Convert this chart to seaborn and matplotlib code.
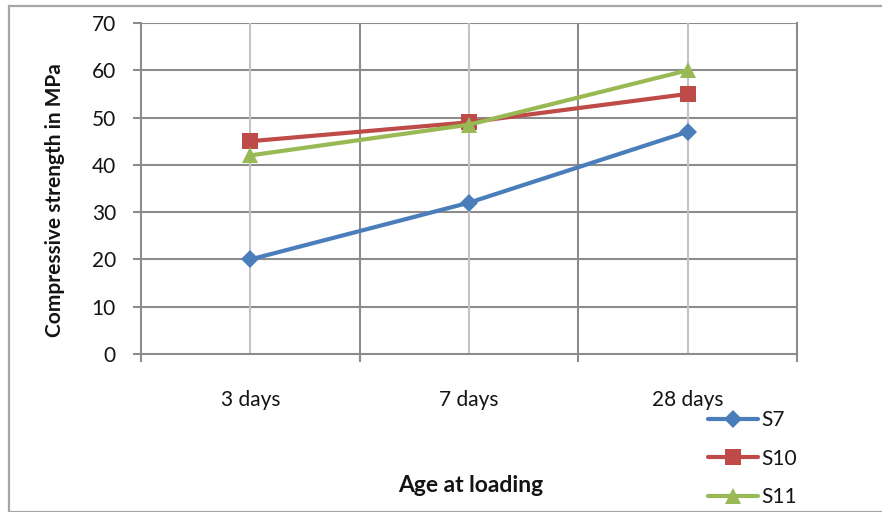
import matplotlib
matplotlib.use("Agg")
import matplotlib.pyplot as plt
from matplotlib.patches import Rectangle
import seaborn as sns
import pandas as pd

# Compressive strength (MPa) by age at loading
ages = ["3 days", "7 days", "28 days"]
s7 = [20, 32, 47]
s10 = [45, 49, 55]
s11 = [42, 48.5, 60]
series_names = ["S7", "S10", "S11"]
y_ticks = [0, 10, 20, 30, 40, 50, 60, 70]

df = pd.DataFrame({
    "age": ages * 3,
    "strength": s7 + s10 + s11,
    "mix": [n for n in series_names for _ in ages],
})

sns.set_theme(style="white")
plt.rcParams["font.family"] = ["Lato", "DejaVu Sans"]

W, H = 882, 512
fig = plt.figure(figsize=(W / 100, H / 100), dpi=100)

# outer chart frame
fig.patches.append(Rectangle((8.5 / W, 0), (W + 10) / W, (H - 5.5) / H,
                             transform=fig.transFigure, fill=False,
                             edgecolor="#A6A6A6", linewidth=1.6, clip_on=False))

L, R, T, B = 141, 797, 23, 354
ax = fig.add_axes([L / W, 1 - B / H, (R - L) / W, (B - T) / H])

palette = {"S7": "#4A7EBB", "S10": "#BE4B48", "S11": "#98B954"}
markers = {"S7": "D", "S10": "s", "S11": "^"}
sizes = {"S7": 9, "S10": 11, "S11": 11}

grid_dark = "#8C8C8C"
grid_light = "#C4C4C4"
text_color = "#141414"

ax.set_xlim(-0.5, 2.5)
ax.set_ylim(0, 70)
ax.set_yticks(y_ticks)
for y in y_ticks[1:]:
    ax.axhline(y, color=grid_dark, lw=1.5, zorder=0)
for x in range(len(ages)):
    ax.axvline(x, color=grid_light, lw=1.5, zorder=0)
for x in [0.5, 1.5]:
    ax.axvline(x, color=grid_dark, lw=1.5, zorder=0)

for name in series_names:
    sub = df[df["mix"] == name]
    sns.lineplot(data=sub, x="age", y="strength", ax=ax, color=palette[name],
                 marker=markers[name], markersize=sizes[name],
                 markeredgewidth=0, linewidth=3, label=name, zorder=3, sort=False)

for side in ["left", "bottom", "right"]:
    ax.spines[side].set_color(grid_dark)
    ax.spines[side].set_linewidth(1.5)
ax.spines["top"].set_visible(False)

ax.set_xlabel("")
ax.set_ylabel("")
ax.set_xticks(range(len(ages)))
ax.set_xticklabels(ages)
ax.set_xticks([-0.5, 0.5, 1.5, 2.5], minor=True)
ax.tick_params(axis="x", which="major", length=0, pad=26, labelsize=15,
               labelcolor=text_color)
ax.tick_params(axis="x", which="minor", direction="out", length=6,
               width=1.5, color=grid_dark, bottom=True)
ax.tick_params(axis="y", direction="out", length=6, width=1.5, color=grid_dark,
               left=True, pad=12, labelsize=15, labelcolor=text_color)

handles, labels = ax.get_legend_handles_labels()
ax.get_legend().remove()
fig.legend(handles, labels, loc="upper left",
           bbox_to_anchor=(698 / W, 1 - 400 / H), frameon=False,
           fontsize=15, handlelength=2.4, handletextpad=0.15,
           labelspacing=0.88, borderpad=0, labelcolor=text_color)

fig.text(55 / W, 1 - 200 / H, "Compressive strength in MPa", rotation=90,
         ha="center", va="center", fontsize=15, fontweight="bold",
         color=text_color)
fig.text(471 / W, 1 - 485 / H, "Age at loading", ha="center", va="center",
         fontsize=16.5, fontweight="bold", color=text_color)

fig.savefig("out.png", dpi=100)
